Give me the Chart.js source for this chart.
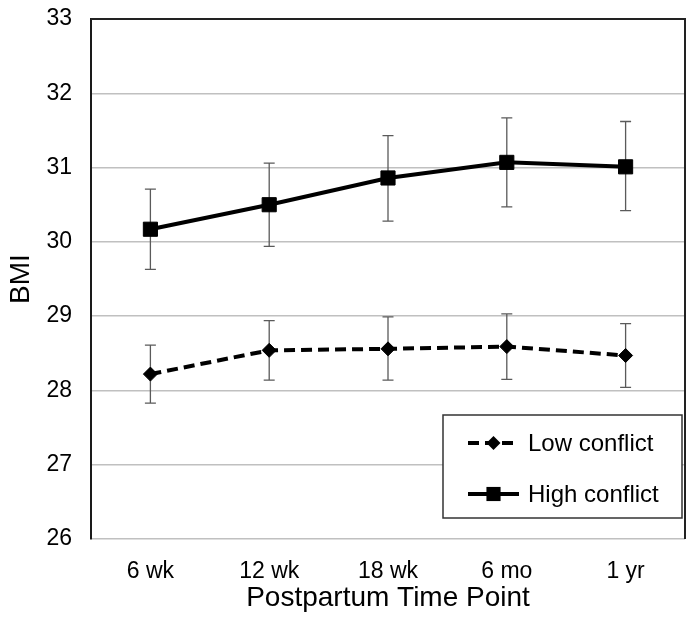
<!DOCTYPE html>
<html>
<head>
<meta charset="utf-8">
<script src="https://cdn.jsdelivr.net/npm/chart.js@4.4.0/dist/chart.umd.min.js"></script>
<style>
  html, body { margin: 0; padding: 0; background: #fff; }
  #wrap { width: 696px; height: 632px; }
</style>
</head>
<body>
<div id="wrap"><canvas id="bmi-chart"></canvas></div>
<script>
const timePoints = ['6 wk', '12 wk', '18 wk', '6 mo', '1 yr'];

const lowConflict = [28.22, 28.54, 28.56, 28.59, 28.47];
const lowConflictUpper = [28.61, 28.94, 28.99, 29.03, 28.90];
const lowConflictLower = [27.83, 28.14, 28.14, 28.15, 28.04];

const highConflict = [30.17, 30.50, 30.86, 31.07, 31.01];
const highConflictUpper = [30.71, 31.06, 31.43, 31.67, 31.62];
const highConflictLower = [29.63, 29.94, 30.28, 30.47, 30.42];

const yMin = 26;
const yMax = 33;

const FONT = "'Liberation Sans', Arial, sans-serif";

// whiskers, drawn under the lines
const errorBars = {
  id: 'errorBars',
  beforeDatasetsDraw(chart) {
    const { ctx, scales: { x, y } } = chart;
    ctx.save();
    ctx.strokeStyle = '#5a5a5a';
    ctx.lineWidth = 1.3;
    chart.data.datasets.forEach(ds => {
      ds.errLower.forEach((lo, i) => {
        const px = x.getPixelForValue(i);
        const top = y.getPixelForValue(ds.errUpper[i]);
        const bot = y.getPixelForValue(lo);
        ctx.beginPath();
        ctx.moveTo(px, top); ctx.lineTo(px, bot);
        ctx.moveTo(px - 5.5, top); ctx.lineTo(px + 5.5, top);
        ctx.moveTo(px - 5.5, bot); ctx.lineTo(px + 5.5, bot);
        ctx.stroke();
      });
    });
    // top and right edges of the plot frame
    const a = chart.chartArea;
    ctx.strokeStyle = '#222';
    ctx.lineWidth = 2;
    ctx.beginPath();
    ctx.moveTo(a.left, a.top); ctx.lineTo(a.right, a.top); ctx.lineTo(a.right, a.bottom);
    ctx.stroke();
    ctx.restore();
  }
};

function marker(ctx, style, x, y, r) {
  ctx.beginPath();
  if (style === 'rect') {
    const s = r * Math.SQRT1_2;
    ctx.rect(x - s, y - s, 2 * s, 2 * s);
  } else {
    ctx.moveTo(x, y - r); ctx.lineTo(x + r, y); ctx.lineTo(x, y + r); ctx.lineTo(x - r, y);
    ctx.closePath();
  }
  ctx.fill();
}

// legend box inside the plot, bottom right
const boxLegend = {
  id: 'boxLegend',
  afterDraw(chart) {
    const { ctx, chartArea: a } = chart;
    const right = a.right - 3, bottom = a.bottom - 21;
    const w = 239, h = 103;
    const left = right - w, top = bottom - h;
    ctx.save();
    ctx.fillStyle = '#fff';
    ctx.fillRect(left, top, w, h);
    ctx.strokeStyle = '#333';
    ctx.lineWidth = 1.5;
    ctx.strokeRect(left, top, w, h);
    chart.data.datasets.forEach((ds, i) => {
      const cy = top + 28 + i * 51;
      const x0 = left + 25, x1 = left + 76;
      ctx.strokeStyle = ds.borderColor;
      ctx.lineWidth = ds.borderWidth;
      ctx.setLineDash(ds.borderDash || []);
      ctx.beginPath();
      ctx.moveTo(x0, cy); ctx.lineTo(x1, cy);
      ctx.stroke();
      ctx.setLineDash([]);
      ctx.fillStyle = ds.pointBackgroundColor;
      marker(ctx, ds.pointStyle, (x0 + x1) / 2, cy, ds.pointRadius);
      ctx.fillStyle = '#000';
      ctx.font = '24px ' + FONT;
      ctx.textBaseline = 'middle';
      ctx.textAlign = 'left';
      ctx.fillText(ds.label, x1 + 9, cy + 1);
    });
    ctx.restore();
  }
};

new Chart(document.getElementById('bmi-chart'), {
  type: 'line',
  data: {
    labels: timePoints,
    datasets: [
      {
        label: 'Low conflict',
        data: lowConflict,
        errUpper: lowConflictUpper,
        errLower: lowConflictLower,
        borderColor: '#000',
        borderWidth: 4,
        borderDash: [11, 6],
        pointStyle: 'rectRot',
        pointRadius: 7,
        pointBorderWidth: 1,
        pointBackgroundColor: '#000',
        pointBorderColor: '#000',
        tension: 0
      },
      {
        label: 'High conflict',
        data: highConflict,
        errUpper: highConflictUpper,
        errLower: highConflictLower,
        borderColor: '#000',
        borderWidth: 4,
        pointStyle: 'rect',
        pointRadius: 10,
        pointBorderWidth: 1,
        pointBackgroundColor: '#000',
        pointBorderColor: '#000',
        tension: 0
      }
    ]
  },
  options: {
    responsive: true,
    maintainAspectRatio: false,
    animation: false,
    layout: { padding: { top: 19, right: 11, left: 0, bottom: 0 } },
    plugins: {
      legend: { display: false },
      tooltip: { enabled: false }
    },
    scales: {
      x: {
        offset: true,
        grid: { display: false },
        border: { display: false },
        ticks: { color: '#000', font: { family: FONT, size: 23 }, padding: 11, maxRotation: 0 },
        title: {
          display: true,
          text: 'Postpartum Time Point',
          color: '#000',
          font: { family: FONT, size: 28 },
          padding: { top: 0, bottom: 17 }
        },
        afterFit(scale) { scale.height = 93; }
      },
      y: {
        min: yMin,
        max: yMax,
        grid: { color: '#c0c0c0', lineWidth: 1.5, drawTicks: true, tickLength: 19, tickColor: 'rgba(0,0,0,0)' },
        border: { display: true, color: '#1a1a1a', width: 2 },
        ticks: { stepSize: 1, color: '#000', font: { family: FONT, size: 23 }, padding: 0 },
        title: {
          display: true,
          text: 'BMI',
          color: '#000',
          font: { family: FONT, size: 28 },
          padding: { top: 4, bottom: 0 }
        },
        afterFit(scale) { scale.width = 91; }
      }
    }
  },
  plugins: [errorBars, boxLegend]
});
</script>
</body>
</html>
